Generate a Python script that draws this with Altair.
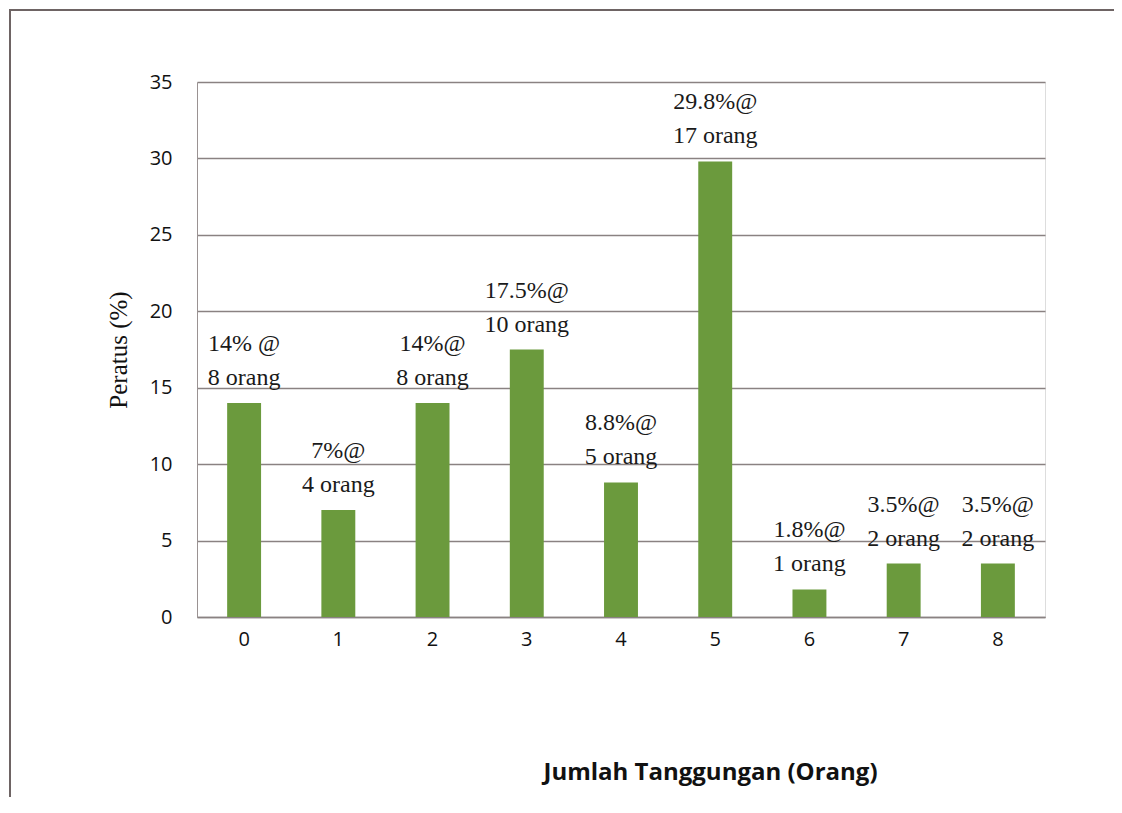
import altair as alt
import pandas as pd

categories = ["0", "1", "2", "3", "4", "5", "6", "7", "8"]
percent = [14, 7, 14, 17.5, 8.8, 29.8, 1.8, 3.5, 3.5]
label_top = ["14% @", "7%@", "14%@", "17.5%@", "8.8%@", "29.8%@", "1.8%@", "3.5%@", "3.5%@"]
label_bottom = ["8 orang", "4 orang", "8 orang", "10 orang", "5 orang", "17 orang", "1 orang", "2 orang", "2 orang"]

df = pd.DataFrame({
    "cat": categories,
    "pct": percent,
    "label": [a + "\n" + b for a, b in zip(label_top, label_bottom)],
})

W, H = 848, 535

x_enc = alt.X("cat:N", sort=categories,
              scale=alt.Scale(paddingInner=0.64, paddingOuter=0.32),
              axis=alt.Axis(title="Jumlah Tanggungan (Orang)", labelAngle=0,
                            labelFont="Open Sans", labelFontSize=20, labelColor="#111",
                            labelPadding=12, ticks=False, domain=True,
                            domainColor="#8a8282", domainWidth=1.5,
                            titleFont="Open Sans", titleFontSize=24, titleFontWeight="bold",
                            titleColor="#111", titleX=513, titleY=143))
y_enc = alt.Y("pct:Q", scale=alt.Scale(domain=[0, 35]),
              axis=alt.Axis(title="Peratus (%)", values=[0, 5, 10, 15, 20, 25, 30, 35],
                            labelFont="Open Sans", labelFontSize=20, labelColor="#111",
                            labelPadding=25, ticks=False, domain=True,
                            domainColor="#9a9292", domainWidth=1,
                            grid=True, gridColor="#8a8282", gridWidth=1.5,
                            titleFont="Liberation Serif", titleFontSize=25,
                            titleFontWeight="normal", titleColor="#111", titlePadding=18))

bars = alt.Chart(df).mark_bar(color="#6b9a3d").encode(x=x_enc, y=y_enc)

labels = alt.Chart(df).mark_text(font="Liberation Serif", fontSize=24, lineBreak="\n",
                                 lineHeight=34, baseline="bottom", align="center",
                                 dy=-47, color="#1a1a1a").encode(
    x=alt.X("cat:N", sort=categories), y="pct:Q", text="label:N")

frame = alt.Chart(df).mark_rect(fill=None, stroke="#6e6464", strokeWidth=2).encode(
    x=alt.value(-187), x2=alt.value(922), y=alt.value(-72), y2=alt.value(760))

chart = alt.layer(frame, bars, labels).properties(
    width=W, height=H,
    autosize=alt.AutoSizeParams(type="none"),
    padding={"left": 189, "top": 74, "right": 69, "bottom": 180},
).configure_view(stroke=None).configure(background="white")

chart.save("out.html", embed_options={"renderer": "svg", "actions": False})
